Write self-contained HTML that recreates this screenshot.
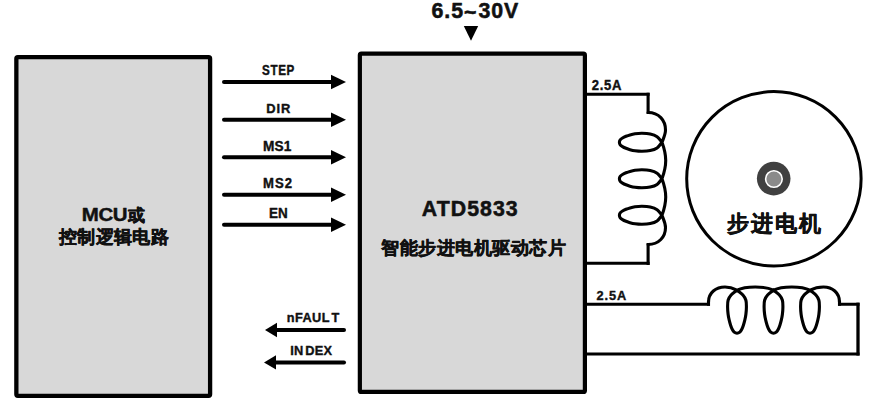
<!DOCTYPE html>
<html><head><meta charset="utf-8">
<style>
html,body{margin:0;padding:0;background:#fff;width:873px;height:400px;overflow:hidden}
svg{display:block}
text{font-family:"Liberation Sans",sans-serif;font-weight:bold;fill:#111;stroke:#111;stroke-width:0.3px;stroke-linejoin:round}
.cj{stroke-width:0.5px}
</style></head><body>
<svg width="873" height="400" viewBox="0 0 873 400">
<rect x="16.35" y="57.15" width="193.75" height="338.7" fill="#d8d8d8" stroke="#000" stroke-width="4.3" rx="1.5"/>
<rect x="359.85" y="53.65" width="225.05" height="338.25" fill="#d8d8d8" stroke="#000" stroke-width="4.2" rx="1.5"/>
<g stroke="#000" stroke-width="4" stroke-linecap="round" fill="none">
<path d="M224 81.9H333"/><path d="M224 119.8H333"/><path d="M224 157.2H333"/><path d="M224 194.8H333"/><path d="M224 224.7H333"/>
<path d="M344 329.9H276"/><path d="M344 362.4H276"/>
</g>
<g fill="#000">
<path d="M331 74.7L346 81.9L331 89.2Z"/>
<path d="M331 112.6L346 119.8L331 127.1Z"/>
<path d="M331 150.0L346 157.2L331 164.5Z"/>
<path d="M331 187.6L346 194.8L331 202.1Z"/>
<path d="M331 217.5L346 224.7L331 232.0Z"/>
<path d="M277 322.7L265 329.9L277 337.2Z"/>
<path d="M276 355.2L264 362.4L276 369.6Z"/>
<path d="M463.8 25.9H478.2L471 40.8Z"/>
</g>
<g fill="none" stroke="#000">
<path d="M585 94.2H648.1M648.1 263.35H585M585 304.3H708.5M839.5 304.3H858M858 353.9H585" stroke-width="3.0" stroke-linecap="square"/>
<path d="M648.1 94.2V112.5M648.1 244.5V263.35M708.5 304.3V302M839.5 302V304.3" stroke-width="3.1" stroke-linecap="square"/>
<path d="M858 304.3V353.9" stroke-width="3.3" stroke-linecap="square"/>
<path d="M648.1 112.5C658.89 112.5 665.5 120.38 665.5 130C665.5 134.31 663.71 137.6 662 142.3M662 142.3C660.37 144.17 659.07 146.52 657.1 147.9C655.13 149.28 652.72 150.03 650.2 150.6C647.68 151.17 644.53 151.27 642 151.3C639.47 151.33 637 151.07 635 150.8C633 150.53 631.5 150.12 630 149.7C628.5 149.28 627.25 148.82 626 148.3C624.75 147.78 623.47 147.18 622.5 146.6C621.53 146.02 620.72 145.52 620.2 144.8C619.68 144.08 619.4 143.13 619.4 142.3C619.4 141.47 619.68 140.52 620.2 139.8C620.72 139.08 621.53 138.58 622.5 138C623.47 137.42 624.75 136.82 626 136.3C627.25 135.78 628.5 135.32 630 134.9C631.5 134.48 633 134.07 635 133.8C637 133.53 639.47 133.27 642 133.3C644.53 133.33 647.68 133.43 650.2 134C652.72 134.57 655.13 135.32 657.1 136.7C659.07 138.08 660.37 140.43 662 142.3M662 142.3C666.96 155.93 666.96 165.17 662 178.8M662 178.8C660.37 180.67 659.07 183.02 657.1 184.4C655.13 185.78 652.72 186.53 650.2 187.1C647.68 187.67 644.53 187.77 642 187.8C639.47 187.83 637 187.57 635 187.3C633 187.03 631.5 186.62 630 186.2C628.5 185.78 627.25 185.32 626 184.8C624.75 184.28 623.47 183.68 622.5 183.1C621.53 182.52 620.72 182.02 620.2 181.3C619.68 180.58 619.4 179.63 619.4 178.8C619.4 177.97 619.68 177.02 620.2 176.3C620.72 175.58 621.53 175.08 622.5 174.5C623.47 173.92 624.75 173.32 626 172.8C627.25 172.28 628.5 171.82 630 171.4C631.5 170.98 633 170.57 635 170.3C637 170.03 639.47 169.77 642 169.8C644.53 169.83 647.68 169.93 650.2 170.5C652.72 171.07 655.13 171.82 657.1 173.2C659.07 174.58 660.37 176.93 662 178.8M662 178.8C666.96 192.43 666.96 201.67 662 215.3M662 215.3C660.37 217.17 659.07 219.52 657.1 220.9C655.13 222.28 652.72 223.03 650.2 223.6C647.68 224.17 644.53 224.27 642 224.3C639.47 224.33 637 224.07 635 223.8C633 223.53 631.5 223.12 630 222.7C628.5 222.28 627.25 221.82 626 221.3C624.75 220.78 623.47 220.18 622.5 219.6C621.53 219.02 620.72 218.52 620.2 217.8C619.68 217.08 619.4 216.13 619.4 215.3C619.4 214.47 619.68 213.52 620.2 212.8C620.72 212.08 621.53 211.58 622.5 211C623.47 210.42 624.75 209.82 626 209.3C627.25 208.78 628.5 208.32 630 207.9C631.5 207.48 633 207.07 635 206.8C637 206.53 639.47 206.27 642 206.3C644.53 206.33 647.68 206.43 650.2 207C652.72 207.57 655.13 208.32 657.1 209.7C659.07 211.08 660.37 213.43 662 215.3M662 215.3C663.71 220 665.5 223.23 665.5 227.5C665.5 236.85 658.89 244.5 648.1 244.5M708.5 302C708.5 292.7 715.92 287 725 287C729.2 287 732.54 287.93 737 290.2M737 290.2C738.97 291.8 741.42 293.33 742.9 295C744.38 296.67 745.32 298.17 745.9 300.2C746.48 302.23 746.4 304.87 746.4 307.2C746.4 309.53 746.17 312.03 745.9 314.2C745.63 316.37 745.22 318.37 744.8 320.2C744.38 322.03 743.9 323.7 743.4 325.2C742.9 326.7 742.4 328.05 741.8 329.2C741.2 330.35 740.6 331.43 739.8 332.1C739 332.77 737.93 333.2 737 333.2C736.07 333.2 735 332.77 734.2 332.1C733.4 331.43 732.8 330.35 732.2 329.2C731.6 328.05 731.1 326.7 730.6 325.2C730.1 323.7 729.62 322.03 729.2 320.2C728.78 318.37 728.37 316.37 728.1 314.2C727.83 312.03 727.6 309.53 727.6 307.2C727.6 304.87 727.52 302.23 728.1 300.2C728.68 298.17 729.62 296.67 731.1 295C732.58 293.33 735.03 291.8 737 290.2M737 290.2C745.46 285.89 765.04 285.89 773.5 290.2M773.5 290.2C775.47 291.8 777.92 293.33 779.4 295C780.88 296.67 781.82 298.17 782.4 300.2C782.98 302.23 782.9 304.87 782.9 307.2C782.9 309.53 782.67 312.03 782.4 314.2C782.13 316.37 781.72 318.37 781.3 320.2C780.88 322.03 780.4 323.7 779.9 325.2C779.4 326.7 778.9 328.05 778.3 329.2C777.7 330.35 777.1 331.43 776.3 332.1C775.5 332.77 774.43 333.2 773.5 333.2C772.57 333.2 771.5 332.77 770.7 332.1C769.9 331.43 769.3 330.35 768.7 329.2C768.1 328.05 767.6 326.7 767.1 325.2C766.6 323.7 766.12 322.03 765.7 320.2C765.28 318.37 764.87 316.37 764.6 314.2C764.33 312.03 764.1 309.53 764.1 307.2C764.1 304.87 764.02 302.23 764.6 300.2C765.18 298.17 766.12 296.67 767.6 295C769.08 293.33 771.53 291.8 773.5 290.2M773.5 290.2C781.96 285.89 801.54 285.89 810 290.2M810 290.2C811.97 291.8 814.42 293.33 815.9 295C817.38 296.67 818.32 298.17 818.9 300.2C819.48 302.23 819.4 304.87 819.4 307.2C819.4 309.53 819.17 312.03 818.9 314.2C818.63 316.37 818.22 318.37 817.8 320.2C817.38 322.03 816.9 323.7 816.4 325.2C815.9 326.7 815.4 328.05 814.8 329.2C814.2 330.35 813.6 331.43 812.8 332.1C812 332.77 810.93 333.2 810 333.2C809.07 333.2 808 332.77 807.2 332.1C806.4 331.43 805.8 330.35 805.2 329.2C804.6 328.05 804.1 326.7 803.6 325.2C803.1 323.7 802.62 322.03 802.2 320.2C801.78 318.37 801.37 316.37 801.1 314.2C800.83 312.03 800.6 309.53 800.6 307.2C800.6 304.87 800.52 302.23 801.1 300.2C801.68 298.17 802.62 296.67 804.1 295C805.58 293.33 808.03 291.8 810 290.2M810 290.2C814.46 287.93 818.77 287 823.5 287C832.3 287 839.5 292.7 839.5 302" stroke-width="3.1" stroke-linejoin="round" stroke-linecap="round"/>
<circle cx="773.9" cy="178.8" r="87.2" stroke-width="3.0"/>
</g>
<circle cx="773.7" cy="178.6" r="16.8" fill="#404040"/>
<circle cx="773.9" cy="179" r="8.3" fill="#8a8a8a" stroke="#fff" stroke-width="1.6"/>
<text transform="translate(262.05,75.25) scale(0.84,1)" font-size="13.89" letter-spacing="0.72" style="stroke-width:0.4px">STEP</text>
<text transform="translate(266.35,112.75) scale(0.95,1)" font-size="13.6" letter-spacing="0.95" style="stroke-width:0.4px">DIR</text>
<text transform="translate(263.05,150.90) scale(0.95,1)" font-size="14.39" letter-spacing="0.12" style="stroke-width:0.4px">MS1</text>
<text transform="translate(263.05,187.75) scale(0.95,1)" font-size="13.81" letter-spacing="1.02" style="stroke-width:0.4px">MS2</text>
<text transform="translate(268.95,217.75) scale(0.95,1)" font-size="14.19" letter-spacing="0.00" style="stroke-width:0.4px">EN</text>
<text transform="translate(286.75,321.95) scale(0.95,1)" font-size="13.44" letter-spacing="0.43" style="stroke-width:0.4px">nFAUL<tspan dx="1.6">T</tspan></text>
<text transform="translate(290.15,354.60) scale(0.95,1)" font-size="13.46" letter-spacing="0.37" style="stroke-width:0.4px">IN<tspan dx="1.6">DEX</tspan></text>
<text transform="translate(431.45,18.30) scale(1.0,1)" font-size="21.33" letter-spacing="0.97" style="stroke-width:0.55px">6.5<tspan dy="1.8">~</tspan><tspan dy="-1.8" dx="1">30V</tspan></text>
<text transform="translate(591.85,89.60) scale(0.95,1)" font-size="13.74" letter-spacing="0.67" style="stroke-width:0.4px">2.5A</text>
<text transform="translate(596.40,299.60) scale(0.95,1)" font-size="13.44" letter-spacing="0.97" style="stroke-width:0.4px">2.5A</text>
<text transform="translate(421.85,215.85) scale(1.0,1)" font-size="21.27" letter-spacing="1.05" style="stroke-width:0.55px">ATD5833</text>
<text transform="translate(81.75,220.75) scale(1.12,1)" font-size="18.28" letter-spacing="-0.34" style="stroke-width:0.45px">MCU</text>
<text x="128.25" y="221.15" font-size="17.46" class="cj">或</text>
<text x="58.90" y="243.00" font-size="17.8" letter-spacing="0.39" class="cj">控制逻辑电路</text>
<text x="381.10" y="253.50" font-size="17.9" letter-spacing="0.49" class="cj">智能步进电机驱动芯片</text>
<text x="727.00" y="231.00" font-size="21.74" letter-spacing="2.10" class="cj">步进电机</text>
</svg>
</body></html>
